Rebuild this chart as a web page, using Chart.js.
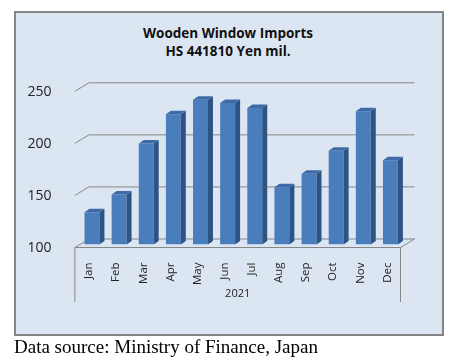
<!DOCTYPE html>
<html>
<head>
<meta charset="utf-8">
<script src="https://cdn.jsdelivr.net/npm/chart.js@4"></script>
<style>
  html, body { margin: 0; padding: 0; background: #fff; }
  #box { position: absolute; left: 14px; top: 11px; width: 426px; height: 321px;
         border: 2px solid #858585; background: #dce6f2; }
  #wrap { position: absolute; left: 0; top: 0; width: 458px; height: 363px; }
  #title { position: absolute; left: 128px; width: 200px; top: 24px; text-align: center;
           font: bold 13.5px/18px "Open Sans", sans-serif; color: #111; }
  #note { position: absolute; left: 14px; top: 336px; font: 19px/22px "Liberation Serif", serif; color: #000; }
</style>
</head>
<body>
<div id="box"></div>
<div id="title">Wooden Window Imports<br>HS 441810 Yen mil.</div>
<div id="wrap"><canvas id="c"></canvas></div>
<div id="note">Data source: Ministry of Finance, Japan</div>
<script>
// 월별 수입액 (백만엔)
const months = ['Jan', 'Feb', 'Mar', 'Apr', 'May', 'Jun', 'Jul', 'Aug', 'Sep', 'Oct', 'Nov', 'Dec'];
const imports = [131, 148, 197, 225, 239, 236, 231, 155, 168, 190, 228, 181];
const yTicks = [100, 150, 200, 250];
const yearLabel = '2021';

// 3D 효과: 벽/바닥/막대 옆면
const FRONT = { dx: -3.5, dy: 3 };
const BACK = { dx: 10.5, dy: -5.5 };
const DEPTH = { dx: 5, dy: -3.5 };

const wall3d = {
  id: 'wall3d',
  beforeDatasetsDraw(chart) {
    const { ctx, chartArea: a, scales: { y } } = chart;
    ctx.save();
    ctx.strokeStyle = '#868686';
    ctx.lineWidth = 1;
    for (const v of yTicks) {
      const py = y.getPixelForValue(v);
      ctx.beginPath();
      ctx.moveTo(a.left + FRONT.dx, py + FRONT.dy);
      ctx.lineTo(a.left + BACK.dx, py + BACK.dy);
      ctx.lineTo(a.right + BACK.dx, py + BACK.dy);
      if (v === yTicks[0]) {
        ctx.lineTo(a.right + FRONT.dx, py + FRONT.dy);
        ctx.closePath();
      }
      ctx.stroke();
    }
    // 카테고리 구분선 + 연도
    const fy = y.getPixelForValue(yTicks[0]) + FRONT.dy;
    ctx.beginPath();
    ctx.moveTo(a.left + FRONT.dx, fy);
    ctx.lineTo(a.left + FRONT.dx, 302);
    ctx.moveTo(a.right + FRONT.dx, fy);
    ctx.lineTo(a.right + FRONT.dx, 302);
    ctx.stroke();
    ctx.fillStyle = '#222';
    ctx.font = '11px "Open Sans", sans-serif';
    ctx.textAlign = 'center';
    ctx.textBaseline = 'middle';
    ctx.fillText(yearLabel, (a.left + a.right) / 2 + FRONT.dx, 294);
    ctx.restore();
  },
  afterDatasetsDraw(chart) {
    const { ctx } = chart;
    ctx.save();
    for (const bar of chart.getDatasetMeta(0).data) {
      const l = bar.x - bar.width / 2, r = bar.x + bar.width / 2;
      const t = bar.y, b = bar.base;
      ctx.fillStyle = '#2e5486';
      ctx.beginPath();
      ctx.moveTo(r, t); ctx.lineTo(r + DEPTH.dx, t + DEPTH.dy);
      ctx.lineTo(r + DEPTH.dx, b + DEPTH.dy); ctx.lineTo(r, b);
      ctx.closePath(); ctx.fill();
      ctx.fillStyle = '#3d6ba6';
      ctx.beginPath();
      ctx.moveTo(l, t); ctx.lineTo(r, t);
      ctx.lineTo(r + DEPTH.dx, t + DEPTH.dy); ctx.lineTo(l + DEPTH.dx, t + DEPTH.dy);
      ctx.closePath(); ctx.fill();
    }
    ctx.restore();
  }
};

new Chart(document.getElementById('c'), {
  type: 'bar',
  data: {
    labels: months,
    datasets: [{ data: imports, base: 100, backgroundColor: '#4a7dbb', categoryPercentage: 0.55, barPercentage: 1 }]
  },
  options: {
    responsive: true, maintainAspectRatio: false, animation: false,
    layout: { padding: { top: 88.3, right: 54, bottom: 0, left: 0 } },
    scales: {
      x: {
        grid: { display: false }, border: { display: false },
        ticks: { minRotation: 90, maxRotation: 90, padding: 10, labelOffset: -3,
                 color: '#222', font: { family: 'Open Sans', size: 11.5 } },
        afterFit(s) { s.height = 363 - 244.5; }
      },
      y: {
        min: 100, max: 250,
        grid: { display: false }, border: { display: false },
        ticks: { stepSize: 50, padding: 19, labelOffset: 4,
                 color: '#222', font: { family: 'Open Sans', size: 14 } },
        afterFit(s) { s.width = 78.4; }
      }
    },
    plugins: {
      legend: { display: false },
      tooltip: { enabled: false }
    }
  },
  plugins: [wall3d]
});
</script>
</body>
</html>
